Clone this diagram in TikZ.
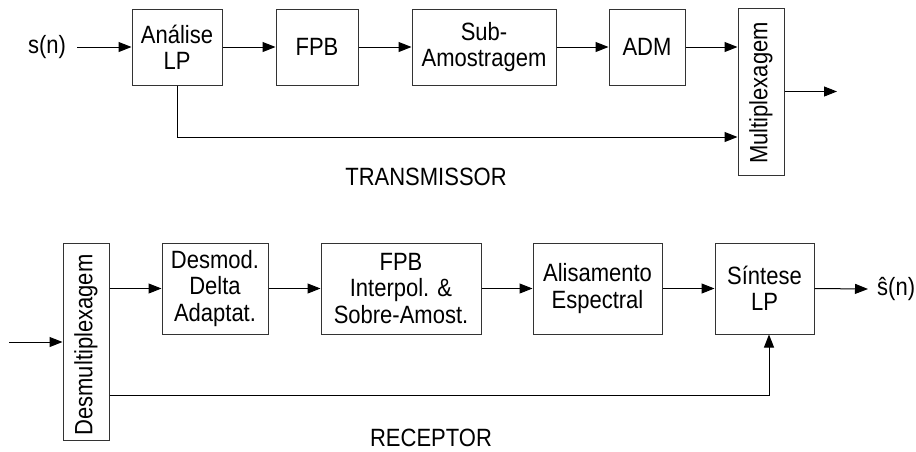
\documentclass[tikz,border=0pt]{standalone}
\usepackage{fontspec}
\setmainfont{Liberation Sans}[FakeStretch=0.88]
\usetikzlibrary{arrows.meta}
\begin{document}
\begin{tikzpicture}[x=1pt,y=-1pt,
  blk/.style={draw=black!80, line width=1pt, inner sep=0pt, align=center, font=\fontsize{25}{26.3}\selectfont},
  lbl/.style={inner sep=0pt, font=\fontsize{25}{26.3}\selectfont},
  arr/.style={line width=1pt, -{Triangle[length=13pt,width=10pt]}},
  ln/.style={line width=1pt}]
\useasboundingbox (0,0) rectangle (916,451);
% ---------- transmitter ----------
\node[lbl] (sn) at (47,47) {s(n)};
\node[blk, minimum width=90pt, minimum height=76pt] (ana) at (177,47) {Análise\\LP};
\node[blk, minimum width=82pt, minimum height=76pt] (fpb) at (317,47) {FPB};
\node[blk, minimum width=144pt, minimum height=76pt] (sub) at (484,47) {Sub-\\Amostragem};
\node[blk, minimum width=76pt, minimum height=76pt] (adm) at (647,47) {ADM};
\node[blk, minimum width=46pt, minimum height=167pt] (mux) at (761,91.5) {};
\node[lbl, rotate=90] (muxt) at (761,93) {Multiplexagem};
\coordinate (tout) at (837,91.5);
\node[lbl] (tx) at (426,177) {TRANSMISSOR};

\draw[arr, shorten <=11pt] (sn.east) -- (ana.west);
\draw[arr] (ana) -- (fpb);
\draw[arr] (fpb) -- (sub);
\draw[arr] (sub) -- (adm);
\draw[arr] (adm.east) -- (adm.east -| mux.west);
\draw[arr] (ana.south) |- ([yshift=-45.5pt]mux.west);
\draw[arr] (mux.east) -- (tout);

% ---------- receiver ----------
\node[blk, minimum width=46pt, minimum height=197pt] (dmx) at (86,341.5) {};
\node[lbl, rotate=90] (dmxt) at (86,345) {Desmultiplexagem};
\node[blk, minimum width=106pt, minimum height=91pt] (des) at (215,288.5) {Desmod.\\Delta\\Adaptat.};
\node[blk, minimum width=160pt, minimum height=91pt] (fpi) at (401,288.5) {FPB\\Interpol. \&\\Sobre-Amost.};
\node[blk, minimum width=129pt, minimum height=91pt] (ali) at (597.5,288.5) {Alisamento\\Espectral};
\node[blk, minimum width=99pt, minimum height=91pt] (sin) at (764.5,288.5) {Síntese\\LP};
\node[lbl, anchor=west] (shat) at (877,289) {ŝ(n)};
\coordinate (rin) at (9,342);
\node[lbl] (rx) at (431,438) {RECEPTOR};

\draw[arr] (rin) -- (rin -| dmx.west);
\draw[arr] (dmx.east |- des) -- (des.west);
\draw[arr] (des) -- (fpi);
\draw[arr] (fpi) -- (ali);
\draw[arr] (ali) -- (sin);
\draw[arr] (sin.east) -- (868,289);
\draw[arr] ([yshift=-53.5pt]dmx.east) -| ([xshift=4.5pt]sin.south);
\end{tikzpicture}
\end{document}
